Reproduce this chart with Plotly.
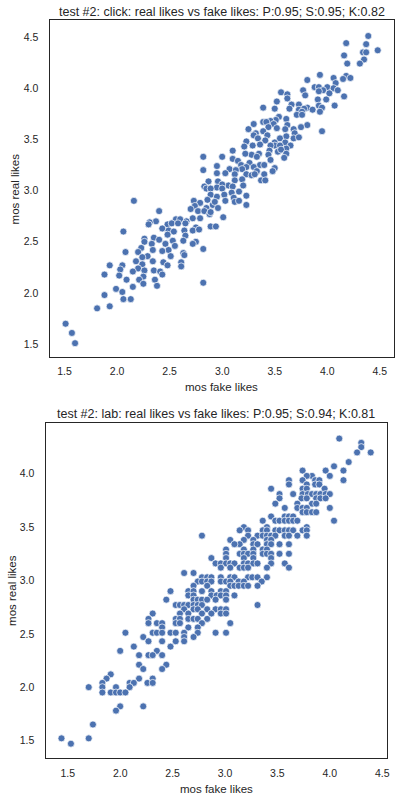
import plotly.graph_objects as go

# ---- test #2: click (top panel) ----
click_fake = [2.82, 2.82, 2.95, 2.95, 2.87, 2.83,
              4.39, 4.18, 4.37, 4.48, 4.34, 4.37, 4.16, 4.35, 4.19, 4.31,
              3.93, 4.18, 4.22, 4.06, 4.15, 3.81, 4.08, 3.88, 3.92, 4.00,
              4.06, 3.96, 3.92, 4.10, 3.77, 4.02, 3.56, 3.62, 3.79, 4.16,
              3.62, 3.91, 3.99, 3.52, 3.66, 3.73, 3.92, 4.07, 3.81, 3.64,
              3.73, 3.78, 3.86, 3.95, 3.39, 3.50, 3.76, 3.93, 3.71, 3.76,
              3.54, 3.51, 3.61, 3.46, 3.39, 3.42, 3.30, 3.49, 3.62, 3.81,
              3.44, 3.52, 3.25, 3.60, 3.68, 3.75, 3.39, 3.32, 3.95, 3.69,
              3.61, 3.30, 3.43, 3.68, 3.73, 3.34, 3.41, 3.23, 3.50, 3.55,
              3.60, 3.50, 3.55, 3.65, 3.46, 3.36, 3.29, 3.21, 3.10, 3.45,
              3.61, 3.53, 3.56, 3.35, 3.28, 3.22, 3.44, 3.61, 3.00, 3.10,
              3.33, 3.59, 3.46, 3.15, 3.26, 3.36, 3.18, 3.40, 3.50, 3.07,
              3.23, 3.30, 3.33, 3.19, 3.13, 3.48, 3.40, 3.03, 3.12, 3.23,
              3.28, 3.31, 2.96, 3.12, 3.19, 3.37, 3.41, 3.06, 3.00, 3.10,
              3.20, 2.95, 2.85, 3.00,
              2.89, 2.89, 2.95, 2.86, 2.16, 2.73, 2.79, 2.91, 2.74, 2.70, 2.85,
              2.40, 2.77, 2.83, 2.88, 2.72, 2.79, 2.56, 2.60, 2.66, 2.37,
              2.31, 2.30, 2.48, 2.52, 2.58, 2.65, 2.43, 2.89, 2.94, 2.75,
              2.49, 2.54, 2.64, 2.72, 2.78, 2.06, 2.48, 2.65, 2.35, 2.40,
              2.26, 2.26, 2.53, 2.63, 2.75, 2.33, 2.46, 2.72, 2.55, 2.49,
              2.82, 2.23, 2.34, 2.43, 2.08, 2.20, 2.63, 2.64, 2.51, 2.29,
              2.24, 2.18, 2.34, 2.44, 2.48, 2.61, 2.61, 2.05, 1.93, 2.24,
              2.20, 2.26, 2.03, 2.15, 2.35, 2.41, 2.43, 1.88, 2.02, 2.25,
              2.21, 2.36, 2.09, 2.25, 2.82, 2.38, 2.15, 1.99, 2.05, 1.88,
              2.06, 2.13, 1.93, 1.81, 1.51, 1.57, 1.60,
              3.16, 3.09, 3.02, 3.23, 3.11, 3.12, 3.16, 3.03, 2.93, 3.23,
              2.89, 2.96, 3.01]
click_real = [3.33, 3.20, 3.24, 3.17, 3.09, 3.04,
              4.51, 4.44, 4.43, 4.37, 4.35, 4.35, 4.32, 4.28, 4.24, 4.24,
              4.13, 4.12, 4.10, 4.10, 4.09, 4.08, 4.05, 4.01, 4.01, 4.01,
              4.00, 3.98, 3.97, 3.98, 3.98, 3.95, 3.96, 3.94, 3.93, 3.92,
              3.90, 3.89, 3.89, 3.87, 3.84, 3.84, 3.83, 3.83, 3.81, 3.80,
              3.79, 3.80, 3.79, 3.81, 3.81, 3.80, 3.77, 3.77, 3.74, 3.74,
              3.72, 3.69, 3.70, 3.68, 3.67, 3.67, 3.65, 3.65, 3.64, 3.64,
              3.62, 3.61, 3.60, 3.60, 3.60, 3.62, 3.58, 3.56, 3.58, 3.56,
              3.53, 3.54, 3.54, 3.51, 3.52, 3.51, 3.49, 3.48, 3.47, 3.51,
              3.47, 3.44, 3.44, 3.44, 3.44, 3.45, 3.44, 3.43, 3.39, 3.39,
              3.41, 3.38, 3.40, 3.36, 3.35, 3.36, 3.35, 3.36, 3.33, 3.31,
              3.33, 3.32, 3.30, 3.29, 3.27, 3.25, 3.25, 3.25, 3.22, 3.21,
              3.23, 3.23, 3.19, 3.21, 3.20, 3.19, 3.16, 3.17, 3.16, 3.16,
              3.15, 3.16, 3.09, 3.10, 3.11, 3.10, 3.10, 3.05, 3.06, 3.04,
              3.05, 3.03, 3.02, 3.02,
              3.02, 2.96, 2.94, 2.91, 2.90, 2.90, 2.88, 2.86, 2.85, 2.82, 2.83,
              2.80, 2.80, 2.80, 2.77, 2.73, 2.73, 2.72, 2.72, 2.70, 2.70,
              2.69, 2.67, 2.67, 2.68, 2.68, 2.68, 2.63, 2.65, 2.65, 2.64,
              2.61, 2.60, 2.61, 2.61, 2.62, 2.60, 2.57, 2.56, 2.54, 2.52,
              2.53, 2.50, 2.51, 2.51, 2.50, 2.48, 2.48, 2.48, 2.46, 2.42,
              2.43, 2.44, 2.42, 2.41, 2.40, 2.40, 2.39, 2.37, 2.36, 2.36,
              2.35, 2.31, 2.31, 2.30, 2.27, 2.30, 2.26, 2.27, 2.27, 2.28,
              2.24, 2.22, 2.23, 2.21, 2.22, 2.21, 2.18, 2.18, 2.17, 2.16,
              2.13, 2.13, 2.13, 2.09, 2.10, 2.07, 2.06, 2.04, 2.01, 1.98,
              1.94, 1.94, 1.87, 1.85, 1.70, 1.61, 1.51,
              2.99, 2.98, 2.96, 2.95, 2.93, 2.89, 2.90, 2.90, 2.89, 2.86,
              2.79, 2.83, 2.74]

# ---- test #2: lab (bottom panel) ----
lab_fake = [4.09,
            4.30,
            4.30,
            4.26, 4.39,
            4.18,
            4.04,
            3.96, 4.13, 3.74,
            4.00, 3.83, 3.78,
            4.13, 3.61, 3.74, 3.86, 3.90,
            3.61, 3.86, 3.90, 3.78,
            3.95, 3.44, 3.74, 3.78,
            3.65, 3.74, 3.79, 3.83, 3.87, 3.91, 3.96, 4.00, 3.52,
            3.73, 3.78, 3.87, 3.91, 3.96, 3.52,
            3.48, 3.69, 3.83, 3.87,
            4.00, 3.57, 3.69, 3.74, 3.78,
            3.74, 3.78, 3.83, 3.87,
            3.44, 3.57, 3.61, 3.65,
            4.04, 3.48, 3.52, 3.57, 3.61, 3.65, 3.69, 3.36,
            3.78, 3.18, 3.40,
            3.14, 3.22, 3.36, 3.40, 3.48, 3.52, 3.57, 3.61, 3.65, 3.74, 3.78,
            2.78, 3.22, 3.31, 3.36, 3.40, 3.44, 3.48, 3.57, 3.61, 3.69, 3.78,
            3.05, 3.18, 3.27, 3.40, 3.44,
            3.14, 3.09, 3.27, 3.31, 3.40, 3.44, 3.52, 3.61,
            3.01, 3.18, 3.27, 3.36, 3.40,
            3.01, 3.14, 3.18, 3.22, 3.27, 3.36, 3.40, 3.44, 3.52, 3.61,
            2.87, 3.01, 3.18, 3.27, 3.44,
            2.91, 2.96, 3.01, 3.05, 3.09, 3.18, 3.22, 3.27, 3.31, 3.44, 3.57,
            3.61, 2.96, 3.05, 3.14, 3.18, 3.22, 3.40,
            2.61, 2.70,
            2.78, 2.83, 2.87, 2.96, 3.05, 3.09, 3.22, 3.26, 3.31, 3.40,
            2.74, 2.78, 2.83, 2.87, 2.96, 3.01, 3.05, 3.13, 3.18, 3.35,
            2.70, 2.83, 3.05, 3.09, 3.13, 3.18, 3.22, 3.31,
            2.48, 2.65, 2.70, 2.78, 2.87, 2.96, 3.01,
            2.65, 2.70, 2.87, 2.92, 2.96, 3.01, 3.09,
            2.44, 2.70, 2.74, 2.78, 2.83, 2.91, 3.01,
            2.53, 2.57, 2.61, 2.65, 2.70, 2.74, 2.78, 3.31,
            2.61, 2.70, 2.74, 2.83, 2.91, 2.96, 3.01,
            2.31, 2.57, 2.65, 2.78, 2.87, 2.96, 3.01,
            2.27, 2.53, 2.57, 2.65, 2.70, 2.74, 2.83,
            2.27, 2.35, 2.40, 2.53, 2.57, 2.78, 3.05,
            2.40, 2.65, 2.74,
            2.05, 2.31, 2.35, 2.40, 2.48, 2.53, 2.61, 2.74, 2.91, 3.01,
            2.22, 2.61, 2.70,
            2.27, 2.40, 2.53, 2.61,
            2.13, 2.48,
            2.00, 2.35,
            2.18, 2.27, 2.31, 2.40,
            2.18, 2.44,
            2.22, 2.40,
            1.91,
            1.87, 2.18, 2.31,
            1.83, 2.09, 2.13, 2.26, 2.31,
            1.70, 1.83, 1.96, 2.09,
            1.83, 1.91, 1.96, 2.00, 2.05,
            2.00, 2.22,
            1.96,
            1.74,
            1.44, 1.70,
            1.53]
lab_real = [4.33,
            4.29,
            4.25,
            4.20, 4.20,
            4.11,
            4.07,
            4.03, 4.03, 4.03,
            3.98, 3.98, 3.98,
            3.94, 3.94, 3.94, 3.94, 3.94,
            3.90, 3.90, 3.90, 3.90,
            3.86, 3.86, 3.86, 3.86,
            3.81, 3.81, 3.81, 3.81, 3.81, 3.81, 3.81, 3.81, 3.81,
            3.77, 3.77, 3.77, 3.77, 3.77, 3.77,
            3.72, 3.72, 3.72, 3.72,
            3.68, 3.68, 3.68, 3.68, 3.68,
            3.64, 3.64, 3.64, 3.64,
            3.60, 3.60, 3.60, 3.60,
            3.56, 3.56, 3.56, 3.56, 3.56, 3.56, 3.56, 3.56,
            3.50, 3.50, 3.50,
            3.47, 3.47, 3.47, 3.47, 3.47, 3.47, 3.47, 3.47, 3.47, 3.47, 3.47,
            3.42, 3.42, 3.42, 3.42, 3.42, 3.42, 3.42, 3.42, 3.42, 3.42, 3.42,
            3.38, 3.38, 3.38, 3.38, 3.38,
            3.34, 3.34, 3.34, 3.34, 3.34, 3.34, 3.34, 3.34,
            3.29, 3.29, 3.29, 3.29, 3.29,
            3.25, 3.25, 3.25, 3.25, 3.25, 3.25, 3.25, 3.25, 3.25, 3.25,
            3.21, 3.21, 3.21, 3.21, 3.21,
            3.16, 3.16, 3.16, 3.16, 3.16, 3.16, 3.16, 3.16, 3.16, 3.16, 3.16,
            3.12, 3.12, 3.12, 3.12, 3.12, 3.12, 3.12,
            3.07, 3.07,
            3.03, 3.03, 3.03, 3.03, 3.03, 3.03, 3.03, 3.03, 3.03, 3.03,
            2.99, 2.99, 2.99, 2.99, 2.99, 2.99, 2.99, 2.99, 2.99, 2.99,
            2.95, 2.95, 2.95, 2.95, 2.95, 2.95, 2.95, 2.95,
            2.90, 2.90, 2.90, 2.90, 2.90, 2.90, 2.90,
            2.86, 2.86, 2.86, 2.86, 2.86, 2.86, 2.86,
            2.82, 2.82, 2.82, 2.82, 2.82, 2.82, 2.82,
            2.77, 2.77, 2.77, 2.77, 2.77, 2.77, 2.77, 2.77,
            2.73, 2.73, 2.73, 2.73, 2.73, 2.73, 2.73,
            2.69, 2.69, 2.69, 2.69, 2.69, 2.69, 2.69,
            2.64, 2.64, 2.64, 2.64, 2.64, 2.64, 2.64,
            2.60, 2.60, 2.60, 2.60, 2.60, 2.60, 2.60,
            2.56, 2.56, 2.56,
            2.51, 2.51, 2.51, 2.51, 2.51, 2.51, 2.51, 2.51, 2.51, 2.51,
            2.47, 2.47, 2.47,
            2.43, 2.43, 2.43, 2.43,
            2.38, 2.38,
            2.34, 2.34,
            2.30, 2.30, 2.30, 2.30,
            2.21, 2.21,
            2.17, 2.17,
            2.12,
            2.08, 2.08, 2.08,
            2.04, 2.04, 2.04, 2.04, 2.04,
            2.00, 2.00, 2.00, 2.00,
            1.95, 1.95, 1.95, 1.95, 1.95,
            1.82, 1.82,
            1.78,
            1.65,
            1.52, 1.52,
            1.47]

tick_vals = [1.5, 2.0, 2.5, 3.0, 3.5, 4.0, 4.5]
tick_text = ["1.5", "2.0", "2.5", "3.0", "3.5", "4.0", "4.5"]

title_click = "test #2: click: real likes vs fake likes: P:0.95; S:0.95; K:0.82"
title_lab = "test #2: lab: real likes vs fake likes: P:0.95; S:0.94; K:0.81"
x_label = "mos fake likes"
y_label = "mos real likes"

W, H = 398, 797
FONT = "Liberation Sans, Arial, Helvetica, sans-serif"
INK = "#262626"
BLUE = "#4C72B0"

marker = dict(color=BLUE, size=7, line=dict(color="white", width=0.7))

fig = go.Figure()
fig.add_trace(go.Scatter(x=click_fake, y=click_real, mode="markers",
                         marker=marker, xaxis="x", yaxis="y", hoverinfo="skip"))
fig.add_trace(go.Scatter(x=lab_fake, y=lab_real, mode="markers",
                         marker=marker, xaxis="x2", yaxis="y2", hoverinfo="skip"))

def ax(domain, rng, anchor, standoff):
    return dict(domain=domain, range=rng, anchor=anchor,
                showgrid=False, zeroline=False,
                showline=True, linecolor=INK, linewidth=1.3, mirror=True,
                ticks="", tickvals=tick_vals, ticktext=tick_text,
                tickfont=dict(family=FONT, size=10.5, color=INK),
                ticklabelstandoff=standoff)

# pixel boxes of the two axes frames
top_box = (50, 397, 20, 357)
bot_box = (46, 390, 423, 758)

def xd(b):
    return [b[0] / W, b[1] / W]

def yd(b):
    return [1 - b[3] / H, 1 - b[2] / H]

fig.update_layout(
    width=W, height=H,
    margin=dict(l=0, r=0, t=0, b=0),
    paper_bgcolor="white", plot_bgcolor="white",
    showlegend=False,
    font=dict(family=FONT, color=INK),
    xaxis=ax(xd(top_box), [1.358, 4.635], "y", 4),
    yaxis=ax(yd(top_box), [1.375, 4.666], "x", 8),
    xaxis2=ax(xd(bot_box), [1.289, 4.546], "y2", 5),
    yaxis2=ax(yd(bot_box), [1.336, 4.476], "x2", 8),
)

def ann(text, x, y, size, angle=0):
    fig.add_annotation(text=text, x=x / W, y=1 - y / H, xref="paper", yref="paper",
                       showarrow=False, xanchor="center", yanchor="middle",
                       textangle=angle, font=dict(family=FONT, size=size, color=INK))

ann(title_click, 223.5, 12, 12.5)
ann(title_lab, 217.5, 414, 12.5)
ann(x_label, 223.5, 386.5, 11.5)
ann(x_label, 218, 788.5, 11.5)
ann(y_label, 15, 188.5, 11.5, -90)
ann(y_label, 12, 590, 11.5, -90)

fig.write_html("out.html")
